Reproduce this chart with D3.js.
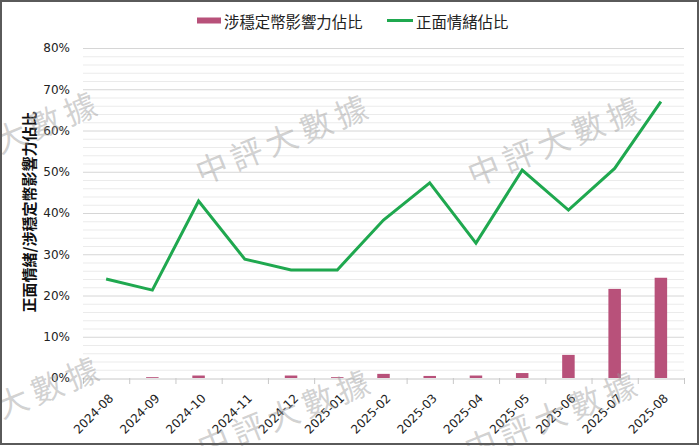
<!DOCTYPE html>
<html>
<head>
<meta charset="utf-8">
<script src="https://cdn.jsdelivr.net/npm/d3@7"></script>
<style>
  html, body { margin: 0; padding: 0; background: #fff; }
  svg { display: block; }
</style>
</head>
<body>
<div id="chart"></div>
<script>
// ---- Data ----
const categories = ["2024-08","2024-09","2024-10","2024-11","2024-12","2025-01","2025-02","2025-03","2025-04","2025-05","2025-06","2025-07","2025-08"];
const barValues  = [0, 0.2, 0.6, 0, 0.6, 0.2, 1.0, 0.5, 0.6, 1.2, 5.6, 21.6, 24.3];
const lineValues = [24.0, 21.3, 42.9, 28.8, 26.2, 26.2, 38.3, 47.3, 32.7, 50.4, 40.7, 50.8, 67.0];
const yTicks = [0, 10, 20, 30, 40, 50, 60, 70, 80];
const yMinorTicks = d3.range(0, 81, 2);
const barName = "涉穩定幣影響力佔比";
const lineName = "正面情緒佔比";
const yTitle = "正面情緒/涉穩定幣影響力佔比";
const watermarkText = "中評大數據";
const watermarkPos = [[-60,163],[211,166],[483,168],[-58,428],[213,441],[480,443]];

// ---- Layout ----
const W = 700, H = 446;
const mLeft = 83, mRight = 684, mTop = 48, mBottom = 378;
const barColor = "#b8517a";
const lineColor = "#1fa84f";
const tickFont = "'DejaVu Sans', sans-serif";
const cjkFont = "'Noto Sans CJK TC', 'Noto Sans CJK SC', sans-serif";

const svg = d3.select("#chart").append("svg").attr("width", W).attr("height", H);
svg.append("rect").attr("width", W).attr("height", H).attr("fill", "#fff");

const x = d3.scaleBand().domain(categories).range([mLeft, mRight]).paddingInner(0).paddingOuter(0);
const y = d3.scaleLinear().domain([0, 80]).range([mBottom, mTop]);

// minor gridlines
svg.append("g").selectAll("line").data(yMinorTicks.filter(d => d % 10 !== 0)).join("line")
  .attr("x1", mLeft).attr("x2", mRight)
  .attr("y1", d => y(d) + 0.5).attr("y2", d => y(d) + 0.5)
  .attr("stroke", "#ebebeb").attr("stroke-width", 1);
// major gridlines
svg.append("g").selectAll("line").data(yTicks.filter(d => d > 0)).join("line")
  .attr("x1", mLeft).attr("x2", mRight)
  .attr("y1", d => y(d) + 0.5).attr("y2", d => y(d) + 0.5)
  .attr("stroke", "#d6d6d6").attr("stroke-width", 1);

// y axis labels
const yAxis = d3.axisLeft(y).tickValues(yTicks).tickFormat(d => d + "%").tickSize(0).tickPadding(13);
const yg = svg.append("g").attr("transform", `translate(${mLeft},0)`).call(yAxis);
yg.select(".domain").remove();
yg.selectAll("text").attr("font-family", tickFont).attr("font-size", 12).attr("fill", "#222");

// x axis
const xAxis = d3.axisBottom(x).tickSize(0).tickFormat("");
const xg = svg.append("g").attr("transform", `translate(0,${mBottom + 0.5})`).call(xAxis);
xg.select(".domain").attr("stroke", "#c8c8c8");
xg.selectAll(".tick").remove();
const boundaries = categories.map(c => x(c)).concat([mRight]);
svg.append("g").selectAll("line").data(boundaries).join("line")
  .attr("x1", d => d + 0.5).attr("x2", d => d + 0.5)
  .attr("y1", mBottom).attr("y2", mBottom + 6)
  .attr("stroke", "#c8c8c8");
svg.append("g").selectAll("text").data(categories).join("text")
  .attr("transform", d => `translate(${x(d) + x.bandwidth() / 2 + 8},${mBottom + 21}) rotate(-45)`)
  .attr("text-anchor", "end")
  .attr("font-family", tickFont).attr("font-size", 12).attr("fill", "#222")
  .text(d => d);

// bars
const barW = 12.5;
svg.append("g").selectAll("rect").data(categories).join("rect")
  .attr("x", d => x(d) + x.bandwidth() / 2 - barW / 2)
  .attr("width", barW)
  .attr("y", (d, i) => y(barValues[i]))
  .attr("height", (d, i) => mBottom - y(barValues[i]))
  .attr("fill", barColor);

// line
const line = d3.line()
  .x((d, i) => x(categories[i]) + x.bandwidth() / 2)
  .y(d => y(d));
svg.append("path").datum(lineValues)
  .attr("d", line)
  .attr("fill", "none")
  .attr("stroke", lineColor)
  .attr("stroke-width", 3)
  .attr("stroke-linejoin", "miter");

// y title
svg.append("text")
  .attr("transform", `translate(28,${(mTop + mBottom) / 2 - 1}) rotate(-90)`)
  .attr("text-anchor", "middle").attr("dominant-baseline", "central")
  .attr("font-family", cjkFont).attr("font-size", 15).attr("font-weight", "bold").attr("fill", "#111")
  .text(yTitle);

// legend
const lg = svg.append("g");
lg.append("rect").attr("x", 197).attr("y", 17.5).attr("width", 24).attr("height", 6).attr("fill", barColor);
lg.append("text").attr("x", 224).attr("y", 21).attr("dominant-baseline", "central")
  .attr("font-family", cjkFont).attr("font-size", 15.4).attr("fill", "#222").text(barName);
lg.append("line").attr("x1", 387).attr("x2", 413).attr("y1", 20.5).attr("y2", 20.5)
  .attr("stroke", lineColor).attr("stroke-width", 3);
lg.append("text").attr("x", 416).attr("y", 21).attr("dominant-baseline", "central")
  .attr("font-family", cjkFont).attr("font-size", 15.4).attr("fill", "#222").text(lineName);

// watermarks
svg.append("g").attr("pointer-events", "none").selectAll("text").data(watermarkPos).join("text")
  .attr("transform", d => `translate(${d[0]},${d[1]}) rotate(-22)`)
  .attr("x", -16)
  .attr("dominant-baseline", "central")
  .attr("font-family", cjkFont).attr("font-size", 32).attr("letter-spacing", 5.5)
  .attr("fill", "#9a9a9a").attr("fill-opacity", 0.45)
  .text(watermarkText);

// border
svg.append("rect").attr("x", 1).attr("y", 1).attr("width", 697).attr("height", 443)
  .attr("fill", "none").attr("stroke", "#5a5a5a").attr("stroke-width", 2);
</script>
</body>
</html>
